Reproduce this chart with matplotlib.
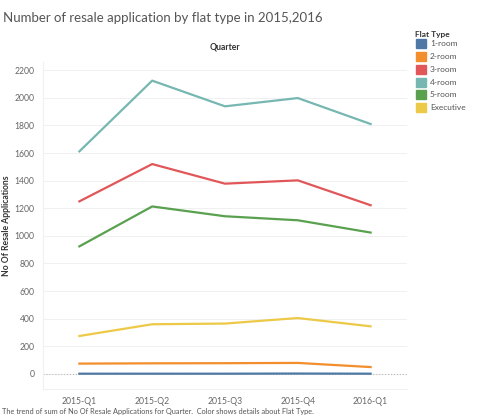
import matplotlib.pyplot as plt

plt.rcParams['font.family'] = ['Lato', 'DejaVu Sans']

quarters = ['2015-Q1', '2015-Q2', '2015-Q3', '2015-Q4', '2016-Q1']
flat_types = ['1-room', '2-room', '3-room', '4-room', '5-room', 'Executive']
colors = ['#4e79a7', '#f28e2b', '#e15759', '#76b7b2', '#59a14f', '#edc948']

room1 = [2, 2, 2, 3, 2]
room2 = [75, 77, 78, 80, 50]
room3 = [1250, 1520, 1378, 1402, 1222]
room4 = [1612, 2124, 1938, 1998, 1810]
room5 = [924, 1213, 1142, 1113, 1024]
executive = [275, 360, 365, 405, 345]
series = [room1, room2, room3, room4, room5, executive]

fig = plt.figure(figsize=(5, 4.18), dpi=100)
ax = fig.add_axes([0.086, 0.069, 0.728, 0.783])

xs = range(len(quarters))
ax.axhline(0, color='#bbbbbb', lw=0.8, ls=':', zorder=1)
for vals, c in zip(series, colors):
    ax.plot(xs, vals, color=c, lw=1.6, zorder=3)

ax.set_xlim(-0.5, len(quarters) - 0.5)
ax.set_ylim(-110, 2260)
ax.set_yticks(range(0, 2201, 200))
ax.set_xticks(list(xs))
ax.set_xticklabels(quarters)
ax.tick_params(axis='both', length=0, labelsize=6.2, colors='#666666', pad=6)
ax.grid(axis='y', color='#f0f0f0', lw=0.7)
ax.set_axisbelow(True)
for s in ['top', 'right']:
    ax.spines[s].set_visible(False)
ax.spines['left'].set_color('#f0f0f0')
ax.spines['bottom'].set_color('#f0f0f0')
ax.set_ylabel('No Of Resale Applications', fontsize=6.2, fontweight='bold',
              color='#333333')
ax.yaxis.set_label_coords(-0.088, 0.5)
ax.set_title('Quarter', fontsize=6.2, fontweight='bold', color='#333333', pad=9)

fig.text(0.006, 0.957, 'Number of resale application by flat type in 2015,2016',
         fontsize=9.5, color='#555555', va='center')
fig.text(0.004, 0.016,
         'The trend of sum of No Of Resale Applications for Quarter.  Color shows details about Flat Type.',
         fontsize=5.3, color='#555555', va='center')

# legend
fig.text(0.83, 0.918, 'Flat Type', fontsize=6, fontweight='bold', color='#333333', va='center')
for i, (name, c) in enumerate(zip(flat_types, colors)):
    y = 0.895 - i * 0.0305
    fig.patches.append(plt.Rectangle((0.832, y - 0.011), 0.02, 0.022, color=c,
                                     transform=fig.transFigure, figure=fig))
    fig.text(0.86, y, name, fontsize=6, color='#555555', va='center')

fig.savefig('out.png', dpi=100)
